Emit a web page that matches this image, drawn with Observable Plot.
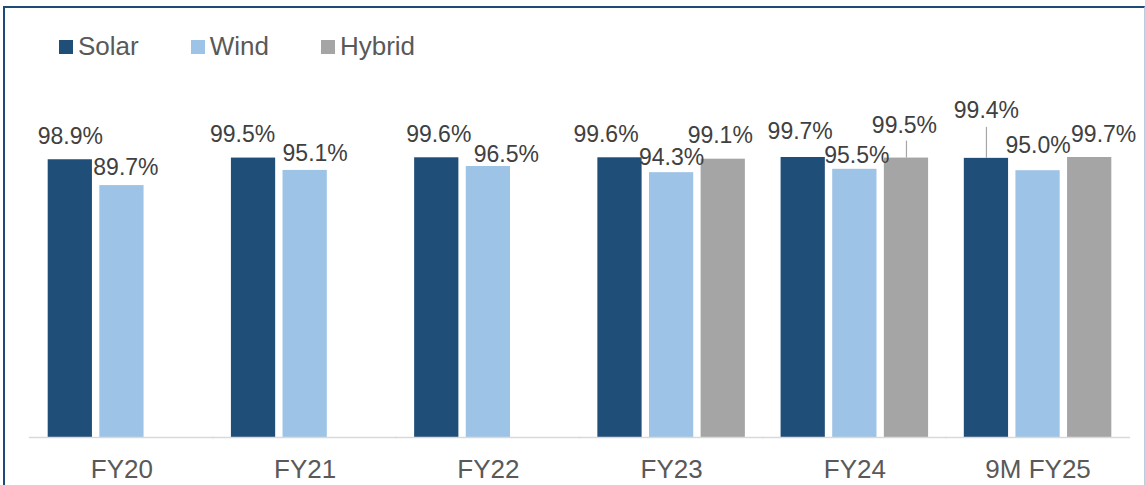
<!DOCTYPE html>
<html>
<head>
<meta charset="utf-8">
<script src="https://cdn.jsdelivr.net/npm/d3@7"></script>
<script src="https://cdn.jsdelivr.net/npm/@observablehq/plot@0.6"></script>
<style>
  html, body { margin: 0; padding: 0; background: #fff; }
  #chart { position: relative; width: 1145px; height: 485px; overflow: hidden; font-family: "Liberation Sans", Arial, sans-serif; }
  #legend { position: absolute; left: 59px; top: 30px; }
  #plot { position: absolute; left: 0; top: 80px; }
  #frame { position: absolute; left: 3px; top: 6px; width: 1139px; height: 520px;
           border-top: 2px solid #1f4a78; border-left: 2px solid #1f4a78; border-right: 1px solid #b9cde0;
           pointer-events: none; }
  .lg-swatches { margin: 0 !important; }
  .lg-swatch { margin-right: 52px !important; }
  .lg-swatch > svg { margin-right: 5px !important; }
</style>
</head>
<body>
<div id="chart">
  <div id="legend"></div>
  <div id="plot"></div>
  <div id="frame"></div>
</div>
<script>
// Plant availability by technology (%)
const categories = ["FY20", "FY21", "FY22", "FY23", "FY24", "9M FY25"];
const series = ["Solar", "Wind", "Hybrid"];
const solar = [98.9, 99.5, 99.6, 99.6, 99.7, 99.4];
const wind = [89.7, 95.1, 96.5, 94.3, 95.5, 95.0];
const hybrid = [null, null, null, 99.1, 99.5, 99.7];
const colors = ["#1f4e79", "#9dc3e6", "#a5a5a5"];

// Hand-placed value labels: [dx from bar centre, dy of baseline from bar top, leader length]
const labelNudge = {
  "FY20|Solar": [0, -16, 0],     "FY20|Wind": [4, -11, 0],
  "FY21|Solar": [-11, -16, 0],   "FY21|Wind": [10, -9, 0],
  "FY22|Solar": [2, -16, 0],     "FY22|Wind": [18, -4, 0],
  "FY23|Solar": [-14, -16, 0],   "FY23|Wind": [0, -8, 0],    "FY23|Hybrid": [-3, -16, 0],
  "FY24|Solar": [-3, -19, 0],    "FY24|Wind": [2, -6, 0],    "FY24|Hybrid": [-2, -25, 17],
  "9M FY25|Solar": [0, -40, 31], "9M FY25|Wind": [0, -18, 0], "9M FY25|Hybrid": [14, -16, 0]
};

const valuesBySeries = {Solar: solar, Wind: wind, Hybrid: hybrid};
const data = [];
categories.forEach((cat, i) => {
  series.forEach(s => {
    const v = valuesBySeries[s][i];
    if (v != null) data.push({cat, series: s, value: v});
  });
});

const fmt = v => `${v.toFixed(1)}%`;

const labelMarks = data.flatMap(d => {
  const [dx, dy, lead] = labelNudge[`${d.cat}|${d.series}`] || [0, -16, 0];
  const marks = [
    Plot.text([d], {
      fx: "cat", x: "series", y: "value", text: d => fmt(d.value),
      dx, dy, lineAnchor: "bottom", fontSize: 23, fill: "#404040"
    })
  ];
  if (lead) {
    marks.push(Plot.ruleX([d], {
      fx: "cat", x: "series", y1: "value", y2: "value",
      insetBottom: lead, stroke: "#a6a6a6", strokeWidth: 1.2
    }));
  }
  return marks;
});

const chart = Plot.plot({
  width: 1145,
  height: 405,
  marginTop: 20,
  marginBottom: 48,
  marginLeft: 29,
  marginRight: 15,
  style: {fontFamily: "'Liberation Sans', Arial, sans-serif", fontSize: "26px", color: "#595959", background: "transparent"},
  fx: {domain: categories, paddingInner: 0.195, paddingOuter: 0.102, round: false, label: null},
  x: {domain: series, paddingInner: 0.143, paddingOuter: 0, round: false, axis: null},
  y: {domain: [0, 120], axis: null},
  color: {domain: series, range: colors},
  marks: [
    Plot.barY(data, {fx: "cat", x: "series", y: "value", fill: "series"}),
    // baseline, repeated in each category panel and widened to bridge the gaps
    Plot.ruleY([0], {stroke: "#d9d9d9", strokeWidth: 1.5, insetLeft: -18.8, insetRight: -18.8}),
    Plot.axisFx({anchor: "bottom", tickSize: 0, tickPadding: 22.5, label: null, fill: "#595959"}),
    ...labelMarks
  ]
});

document.getElementById("plot").appendChild(chart);

const legend = chart.legend("color", {
  className: "lg",
  swatchSize: 14,
  style: {fontFamily: "'Liberation Sans', Arial, sans-serif", fontSize: "26px", color: "#595959"}
});
document.getElementById("legend").appendChild(legend);
</script>
</body>
</html>
